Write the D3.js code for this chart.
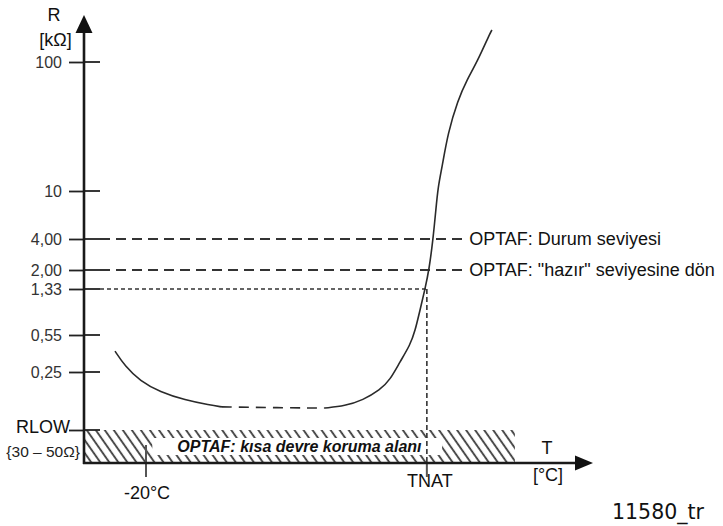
<!DOCTYPE html>
<html>
<head>
<meta charset="utf-8">
<script src="https://cdn.jsdelivr.net/npm/d3@7"></script>
<style>
    body { margin: 0; background: #fff; }
    text { font-family: "Liberation Sans", Arial, sans-serif; }
</style>
</head>
<body>
<div id="demo"><svg></svg></div>
<script>

// y axis ticks (R in kOhm)
var yTickValues = [100, 10, 4, 2, 1.33, 0.55, 0.25];
var yTickLabels = ["100", "10", "4,00", "2,00", "1,33", "0,55", "0,25"];
var rLow = 0.04;
var rLowLabel = "RLOW";
var rLowRange = "{30 – 50Ω}";

var tNat = 70.6;
var xTickValues = [-20, tNat];
var xTickLabels = ["-20°C", "TNAT"];

// resistance curve [T, R]
var curveLeft = [[-30, 0.39], [-26.8, 0.284], [-21.9, 0.188], [-15.5, 0.133], [-7.4, 0.103], [0.6, 0.088], [4.5, 0.083]];
var curveMiddle = [[4.5, 0.083], [20, 0.081], [37.7, 0.080]];
var curveRight = [[37.7, 0.080], [44.2, 0.0855], [50, 0.103], [55.5, 0.142], [58.7, 0.194], [61.9, 0.31],
    [65.2, 0.444], [66.8, 0.594], [68.4, 0.889], [70, 1.33], [71.3, 2.0], [72.6, 4.0], [73.5, 6.96],
    [74.2, 10.7], [75.5, 15.3], [77.4, 28.2], [80.6, 50.7], [83.5, 72.5], [86.8, 100], [91, 168], [91.6, 177]];

// level lines
var levelValues = [4, 2];
var levelLabels = ["OPTAF: Durum seviyesi", "OPTAF: \"hazır\" seviyesine dön"];
var levelEnd = 82;
var tNatLevel = 1.33;

// short circuit area
var hatchEnd = 99;
var hatchLabel = "OPTAF: kısa devre koruma alanı";

var svgWidth = 723, svgHeight = 526;
var axisX = 84, axisY = 463;

var svg = d3.select("#demo").select("svg")
    .attr("width", svgWidth)
    .attr("height", svgHeight);

var xScale = d3.scaleLinear().domain([-40, 124]).range([axisX, axisX + 164 * 3.1]);
var yScale = d3.scaleLog()
    .domain([0.04, 0.25, 0.55, 1.33, 2, 4, 10, 100])
    .range([430, 372, 335, 289, 270, 239, 191, 62]);

// hatch pattern
svg.append("defs").append("pattern")
    .attr("id", "hatch")
    .attr("patternUnits", "userSpaceOnUse")
    .attr("width", 7.4)
    .attr("height", 10)
    .attr("patternTransform", "rotate(-35)")
    .append("line")
    .attr("x1", 2).attr("y1", 0)
    .attr("x2", 2).attr("y2", 10)
    .attr("stroke", "#3a3a3a")
    .attr("stroke-width", 1.8);

// ========= short circuit area
svg.append("rect")
    .attr("x", xScale(-40))
    .attr("y", yScale(rLow))
    .attr("width", xScale(hatchEnd) - xScale(-40))
    .attr("height", axisY - yScale(rLow))
    .attr("fill", "url(#hatch)");

var hatchText = svg.append("text")
    .attr("x", (xScale(-40) + xScale(hatchEnd)) / 2)
    .attr("y", 446)
    .attr("dy", "0.35em")
    .attr("text-anchor", "middle")
    .style("font-size", "16px")
    .style("font-weight", "bold")
    .style("font-style", "italic")
    .attr("fill", "#111")
    .text(hatchLabel);
var box = hatchText.node().getBBox();
svg.insert("rect", "text")
    .attr("x", box.x - 25)
    .attr("y", 438)
    .attr("width", box.width + 45)
    .attr("height", 17)
    .attr("fill", "#fff");

// ========= level lines
svg.selectAll(".level")
    .data(levelValues)
    .enter()
    .append("line")
    .attr("class", "level")
    .attr("x1", axisX + 16)
    .attr("x2", xScale(levelEnd))
    .attr("y1", function (d) { return yScale(d); })
    .attr("y2", function (d) { return yScale(d); })
    .attr("stroke", "#333")
    .attr("stroke-width", 1.8)
    .attr("stroke-dasharray", "10,6");

svg.selectAll(".levelLabel")
    .data(levelValues)
    .enter()
    .append("text")
    .attr("class", "levelLabel")
    .attr("x", xScale(levelEnd) + 7)
    .attr("y", function (d) { return yScale(d); })
    .attr("dy", "0.35em")
    .style("font-size", "18px")
    .attr("fill", "#111")
    .text(function (d, i) { return levelLabels[i]; });

// TNAT lines
svg.append("line")
    .attr("x1", axisX + 16).attr("x2", xScale(tNat))
    .attr("y1", yScale(tNatLevel)).attr("y2", yScale(tNatLevel))
    .attr("stroke", "#333").attr("stroke-width", 1.5)
    .attr("stroke-dasharray", "4,3");
svg.append("line")
    .attr("x1", xScale(tNat)).attr("x2", xScale(tNat))
    .attr("y1", yScale(tNatLevel)).attr("y2", axisY)
    .attr("stroke", "#333").attr("stroke-width", 1.6)
    .attr("stroke-dasharray", "5,3");

// ========= curve
var line = d3.line()
    .x(function (d) { return xScale(d[0]); })
    .y(function (d) { return yScale(d[1]); })
    .curve(d3.curveBasis);

[curveLeft, curveMiddle, curveRight].forEach(function (c, i) {
    svg.append("path")
        .datum(c)
        .attr("d", line)
        .attr("fill", "none")
        .attr("stroke", "#2a2a2a")
        .attr("stroke-width", 1.6)
        .attr("stroke-dasharray", i === 1 ? "10,7" : null);
});

// ========= y axis
var yAxisG = svg.append("g")
    .attr("class", "yAxisG")
    .attr("transform", "translate(" + axisX + ",0)")
    .call(d3.axisLeft(yScale)
        .tickValues(yTickValues.concat([rLow]))
        .tickFormat(function (d, i) { return i < yTickLabels.length ? yTickLabels[i] : ""; })
        .tickSize(15)
        .tickPadding(7));
yAxisG.select(".domain").remove();
yAxisG.selectAll("line").attr("stroke", "#222").attr("stroke-width", 1.8);
yAxisG.selectAll("text")
    .style("font-family", "\"Liberation Sans\", Arial, sans-serif")
    .style("font-size", "16px")
    .attr("fill", "#333");

// right half of the ticks
svg.selectAll(".tickRight")
    .data(yTickValues.concat([rLow]))
    .enter()
    .append("line")
    .attr("x1", axisX).attr("x2", axisX + 16)
    .attr("y1", function (d) { return yScale(d); })
    .attr("y2", function (d) { return yScale(d); })
    .attr("stroke", "#222").attr("stroke-width", 1.8);

svg.append("text")
    .attr("x", 70).attr("y", yScale(rLow) - 3.5)
    .attr("dy", "0.35em")
    .attr("text-anchor", "end")
    .style("font-size", "18px")
    .attr("fill", "#111")
    .text(rLowLabel);
svg.append("text")
    .attr("x", 80).attr("y", 452)
    .attr("dy", "0.35em")
    .attr("text-anchor", "end")
    .style("font-size", "15.5px")
    .attr("fill", "#222")
    .text(rLowRange);

// ========= x axis ticks
svg.selectAll(".xTick")
    .data(xTickValues)
    .enter()
    .append("line")
    .attr("x1", function (d) { return xScale(d); })
    .attr("x2", function (d) { return xScale(d); })
    .attr("y1", function (d, i) { return i === 0 ? 445 : axisY; })
    .attr("y2", 477)
    .attr("stroke", "#555").attr("stroke-width", 2);

svg.selectAll(".xTickLabel")
    .data(xTickValues)
    .enter()
    .append("text")
    .attr("x", function (d, i) { return xScale(d) + (i === 0 ? 1 : 3); })
    .attr("y", function (d, i) { return i === 0 ? 493 : 481; })
    .attr("dy", "0.35em")
    .attr("text-anchor", "middle")
    .style("font-size", "18px")
    .attr("fill", "#111")
    .text(function (d, i) { return xTickLabels[i]; });

// ========= axes with arrows
svg.append("line")
    .attr("x1", axisX).attr("x2", axisX)
    .attr("y1", axisY + 1).attr("y2", 30)
    .attr("stroke", "#1a1a1a").attr("stroke-width", 2.6);
svg.append("path")
    .attr("d", "M" + axisX + ",15 L" + (axisX - 8.5) + ",33 L" + (axisX + 8.5) + ",33 Z")
    .attr("fill", "#111");

svg.append("line")
    .attr("x1", axisX - 1).attr("x2", 578)
    .attr("y1", axisY).attr("y2", axisY)
    .attr("stroke", "#1a1a1a").attr("stroke-width", 2.6);
svg.append("path")
    .attr("d", "M593," + axisY + " L575," + (axisY - 7.5) + " L575," + (axisY + 7.5) + " Z")
    .attr("fill", "#111");

// axis titles
svg.append("text").attr("x", 54).attr("y", 15).attr("dy", "0.35em")
    .attr("text-anchor", "middle").style("font-size", "18px").attr("fill", "#111").text("R");
svg.append("text").attr("x", 55.5).attr("y", 40).attr("dy", "0.35em")
    .attr("text-anchor", "middle").style("font-size", "18px").attr("fill", "#111").text("[kΩ]");
svg.append("text").attr("x", 547).attr("y", 448).attr("dy", "0.35em")
    .attr("text-anchor", "middle").style("font-size", "18px").attr("fill", "#111").text("T");
svg.append("text").attr("x", 548).attr("y", 475).attr("dy", "0.35em")
    .attr("text-anchor", "middle").style("font-size", "18px").attr("fill", "#111").text("[°C]");

// figure id
svg.append("text").attr("x", 612).attr("y", 512).attr("dy", "0.35em")
    .style("font-family", "\"DejaVu Sans\", Verdana, sans-serif")
    .style("font-size", "20.5px").attr("fill", "#111").text("11580_tr");

</script>
</body>
</html>
